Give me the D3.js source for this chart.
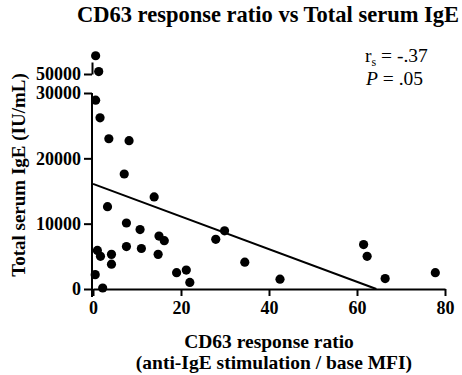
<!DOCTYPE html>
<html>
<head>
<meta charset="utf-8">
<script src="https://cdn.jsdelivr.net/npm/d3@7"></script>
<style>
  body { margin: 0; background: #fff; }
  svg text { font-family: "Liberation Serif", "Times New Roman", serif; }
</style>
</head>
<body>
<div id="chart"></div>
<script>
// CD63 response ratio (x) vs total serum IgE (y)
var ratio = [0.6, 1.6, 3.6, 8.2, 7.1, 13.9, 3.3, 7.6, 10.7, 15.0, 16.2, 29.9, 27.9, 34.5,
             1.0, 1.7, 4.2, 4.2, 7.6, 11.0, 14.8, 0.5, 2.2, 19.0, 21.2, 22.0,
             42.5, 61.5, 62.3, 66.4, 77.8, 0.6, 1.3];
var ige = [28900, 26200, 23000, 22700, 17600, 14100, 12600, 10100, 9100, 8100, 7400, 8900, 7600, 4100,
           5900, 5000, 5300, 3800, 6500, 6200, 5300, 2200, 150, 2500, 2900, 1000,
           1500, 6800, 5000, 1600, 2500, 57600, 51000];
var fitLine = [[0, 16100], [64.4, 0]];
var xTicks = [0, 20, 40, 60, 80];
var yTicksLow = [0, 10000, 20000, 30000];
var yTicksHigh = [50000];

var W = 462, H = 375;
var svg = d3.select("#chart").append("svg").attr("width", W).attr("height", H);

var x = d3.scaleLinear().domain([0, 80]).range([93, 445]);
var yLow = d3.scaleLinear().domain([0, 30000]).range([289, 93]);
var yHigh = d3.scaleLinear().domain([50000, 55000]).range([74, 62]);
function yPos(v){ return v > 30000 ? yHigh(v) : yLow(v); }

function styleAxis(g){
  g.attr("font-family", null).attr("font-size", null);
  g.selectAll("path.domain").attr("stroke", "#000").attr("stroke-width", 2);
  g.selectAll(".tick line").attr("stroke", "#000").attr("stroke-width", 2);
  g.selectAll(".tick text")
   .style("font-family", "'Liberation Serif', serif")
   .style("font-weight", "bold")
   .style("font-size", "18px")
   .attr("fill", "#000");
}

// x axis
var gx = svg.append("g").attr("transform", "translate(0,289)")
  .call(d3.axisBottom(x).tickValues(xTicks).tickSize(7).tickSizeOuter(0).tickPadding(5));
styleAxis(gx);

// y axis, lower segment
var gyl = svg.append("g").attr("transform", "translate(92,0)")
  .call(d3.axisLeft(yLow).tickValues(yTicksLow).tickSize(8).tickSizeOuter(0)
        .tickFormat(d3.format("d")).tickPadding(3));
styleAxis(gyl);
gyl.select("path.domain").attr("d", "M0," + (yLow(0) + 8) + "V" + yLow(30000));

// y axis, upper segment
var gyh = svg.append("g").attr("transform", "translate(92,0)")
  .call(d3.axisLeft(yHigh).tickValues(yTicksHigh).tickSize(8).tickSizeOuter(0)
        .tickFormat(d3.format("d")).tickPadding(3));
styleAxis(gyh);

// regression line
svg.append("line")
   .attr("x1", x(fitLine[0][0])).attr("y1", yLow(fitLine[0][1]))
   .attr("x2", x(fitLine[1][0])).attr("y2", yLow(fitLine[1][1]))
   .attr("stroke", "#000").attr("stroke-width", 2);

// points
svg.append("g").selectAll("circle")
   .data(d3.range(ratio.length))
   .enter().append("circle")
   .attr("cx", function(i){ return x(ratio[i]); })
   .attr("cy", function(i){ return yPos(ige[i]); })
   .attr("r", 4.6)
   .attr("fill", "#000");

// title
svg.append("text")
   .attr("x", 268).attr("y", 22)
   .attr("text-anchor", "middle")
   .attr("font-weight", "bold")
   .attr("font-size", 22.5)
   .text("CD63 response ratio vs Total serum IgE");

// axis titles
svg.append("text")
   .attr("x", 269).attr("y", 348)
   .attr("text-anchor", "middle")
   .attr("font-weight", "bold")
   .attr("font-size", 19.5)
   .text("CD63 response ratio");
svg.append("text")
   .attr("x", 274).attr("y", 369)
   .attr("text-anchor", "middle")
   .attr("font-weight", "bold")
   .attr("font-size", 19.5)
   .text("(anti-IgE stimulation / base MFI)");

svg.append("text")
   .attr("transform", "translate(25,175) rotate(-90)")
   .attr("text-anchor", "middle")
   .attr("font-weight", "bold")
   .attr("font-size", 19)
   .text("Total serum IgE (IU/mL)");

// stats annotation
var rs = svg.append("text").attr("x", 365).attr("y", 62).attr("font-size", 19.5);
rs.append("tspan").text("r");
rs.append("tspan").attr("font-size", 12).attr("dy", 4).text("s");
rs.append("tspan").attr("dy", -4).text(" = -.37");

var p = svg.append("text").attr("x", 366).attr("y", 85).attr("font-size", 19.5);
p.append("tspan").attr("font-style", "italic").text("P");
p.append("tspan").text(" = .05");
</script>
</body>
</html>
